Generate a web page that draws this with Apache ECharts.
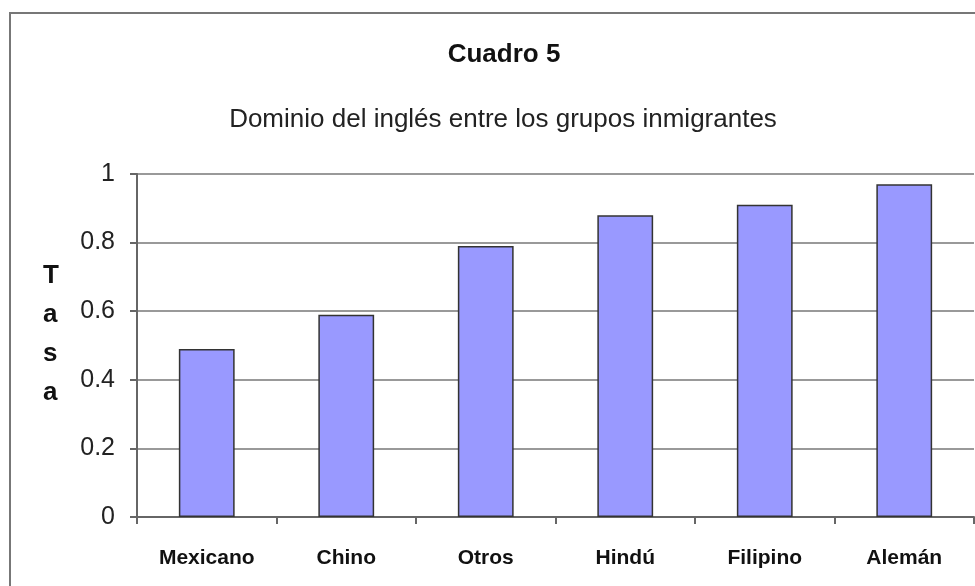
<!DOCTYPE html>
<html><head><meta charset="utf-8">
<script src="https://cdn.jsdelivr.net/npm/echarts@6/dist/echarts.min.js"></script>
<style>html,body{margin:0;padding:0;background:#fff}#c{width:975px;height:586px}</style>
</head><body><div id="c"></div>
<script>
const categories = ['Mexicano', 'Chino', 'Otros', 'Hindú', 'Filipino', 'Alemán'];
const values = [0.49, 0.59, 0.79, 0.88, 0.91, 0.97];
const titleText = 'Cuadro 5';
const subtitleText = 'Dominio del inglés entre los grupos inmigrantes';
const yName = 'T\na\ns\na';

const chart = echarts.init(document.getElementById('c'));
chart.setOption({
  animation: false,
  backgroundColor: '#fff',
  graphic: [{
    type: 'rect', shape: { x: 10, y: 13, width: 1100, height: 1000 },
    style: { fill: 'none', stroke: '#777', lineWidth: 2 }, z: -1
  }, {
    type: 'text', left: 43, top: 256,
    style: { text: yName, font: 'bold 26px "Liberation Sans", Arial', fill: '#111', lineHeight: 39, align: 'left' }
  }],
  title: [
    { text: titleText, left: 499, top: 37, textAlign: 'center',
      textStyle: { fontFamily: 'Liberation Sans, Arial', fontWeight: 'bold', fontSize: 26, color: '#111' } },
    { text: subtitleText, left: 498, top: 102, textAlign: 'center',
      textStyle: { fontFamily: 'Liberation Sans, Arial', fontWeight: 'normal', fontSize: 26, color: '#222' } }
  ],
  grid: { left: 137, top: 174, width: 837, height: 343 },
  xAxis: {
    type: 'category', data: categories,
    axisLine: { lineStyle: { color: '#666', width: 2 } },
    axisTick: { show: true, length: 7, lineStyle: { color: '#666', width: 2 } },
    axisLabel: { margin: 31, fontFamily: 'Liberation Sans, Arial', fontWeight: 'bold', fontSize: 21, color: '#111' }
  },
  yAxis: {
    type: 'value', min: 0, max: 1, interval: 0.2,
    axisLine: { show: true, lineStyle: { color: '#666', width: 2 } },
    axisTick: { show: true, length: 7, lineStyle: { color: '#666', width: 2 } },
    splitLine: { lineStyle: { color: '#777', width: 1.5 } },
    axisLabel: { margin: 22, fontFamily: 'Liberation Sans, Arial', fontSize: 25, color: '#222',
      formatter: v => String(Math.round(v * 10) / 10) }
  },
  series: [{
    type: 'bar', data: values, barWidth: '40%',
    itemStyle: { color: '#9999FF', borderColor: '#333', borderWidth: 1.5 }
  }]
});
</script></body></html>
